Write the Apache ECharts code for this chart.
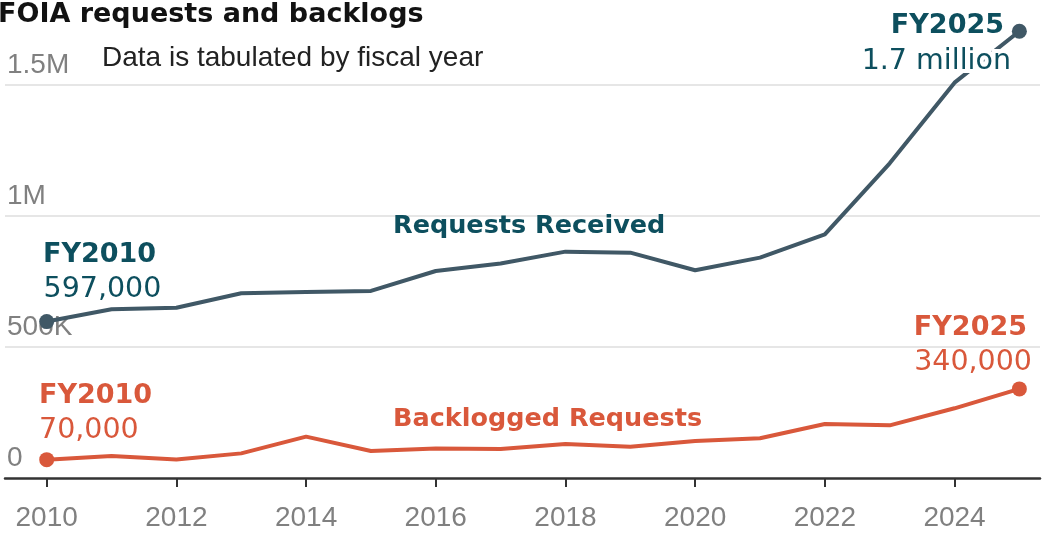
<!DOCTYPE html>
<html>
<head>
<meta charset="utf-8">
<script src="https://cdn.jsdelivr.net/npm/echarts@6/dist/echarts.min.js"></script>
<style>
html,body{margin:0;padding:0;background:#fff;}
#chart{width:1050px;height:549px;}
</style>
</head>
<body>
<div id="chart"></div>
<script>
const years = [2010,2011,2012,2013,2014,2015,2016,2017,2018,2019,2020,2021,2022,2023,2024,2025];
const requestsReceived = [597000,644000,650000,705000,710000,714000,790000,819000,864000,860000,793000,841000,930000,1201000,1509000,1705000];
const backloggedRequests = [70000,84000,71000,94000,158000,103000,113000,111000,130000,119000,141000,152000,206000,201000,266000,340000];
const xTickValues = [2010,2012,2014,2016,2018,2020,2022,2024];
const yTickValues = [0,500000,1000000,1500000];
const yTickLabels = ['0','500K','1M','1.5M'];

const titleText = 'FOIA requests and backlogs';
const subtitleText = 'Data is tabulated by fiscal year';
const reqName = 'Requests Received';
const backName = 'Backlogged Requests';
const reqStartLabel = ['FY2010', '597,000'];
const reqEndLabel = ['FY2025', '1.7 million'];
const backStartLabel = ['FY2010', '70,000'];
const backEndLabel = ['FY2025', '340,000'];

const TEAL_TEXT = '#0d4f5e';
const TEAL_LINE = '#405866';
const ORANGE = '#d9583b';
const BOLD27 = '700 27px "DejaVu Sans"';
const BOLD25 = '700 25.5px "DejaVu Sans"';
const NUM28 = '400 28.5px "DejaVu Sans"';

function txt(text, x, y, font, fill, align, extra) {
  const style = Object.assign({
    text: text, x: x, y: y, font: font, fill: fill,
    align: align, textAlign: align,
    verticalAlign: 'middle', textVerticalAlign: 'middle'
  }, extra || {});
  return { type: 'text', z: 100, silent: true, style: style };
}

const last = years.length - 1;
const chart = echarts.init(document.getElementById('chart'));
chart.setOption({
  animation: false,
  backgroundColor: '#fff',
  grid: { left: 5, right: 10, top: 19.5, bottom: 71, containLabel: false, outerBoundsMode: 'none' },
  xAxis: {
    type: 'value',
    min: 2009.357,
    max: 2025.318,
    axisLine: { show: true, lineStyle: { color: '#333', width: 2.5 } },
    axisTick: { show: true, customValues: xTickValues, length: 9, lineStyle: { color: '#333', width: 2 } },
    axisLabel: {
      customValues: xTickValues,
      formatter: v => String(v),
      color: '#808080',
      fontFamily: 'Liberation Sans',
      fontSize: 28,
      margin: 26
    },
    splitLine: { show: false }
  },
  yAxis: {
    type: 'value',
    min: 0,
    max: 1750000,
    interval: 500000,
    axisLine: { show: false },
    axisTick: { show: false },
    axisLabel: {
      inside: true,
      customValues: yTickValues,
      formatter: v => yTickLabels[yTickValues.indexOf(v)],
      color: '#808080',
      fontFamily: 'Liberation Sans',
      fontSize: 28,
      margin: 2,
      verticalAlign: 'bottom',
      lineHeight: 40
    },
    splitLine: { show: true, showMinLine: false, showMaxLine: false, lineStyle: { color: '#e6e6e6', width: 2 } }
  },
  series: [
    {
      name: reqName, type: 'line', z: 3,
      data: years.map((y, i) => [y, requestsReceived[i]]),
      showSymbol: false, lineStyle: { color: TEAL_LINE, width: 4 }, itemStyle: { color: TEAL_LINE }
    },
    {
      name: backName, type: 'line', z: 3,
      data: years.map((y, i) => [y, backloggedRequests[i]]),
      showSymbol: false, lineStyle: { color: ORANGE, width: 4 }, itemStyle: { color: ORANGE }
    },
    {
      type: 'scatter', z: 4, symbolSize: 15,
      data: [[years[0], requestsReceived[0]], [years[last], requestsReceived[last]]],
      itemStyle: { color: TEAL_LINE, opacity: 1 }
    },
    {
      type: 'scatter', z: 4, symbolSize: 15,
      data: [[years[0], backloggedRequests[0]], [years[last], backloggedRequests[last]]],
      itemStyle: { color: ORANGE, opacity: 1 }
    }
  ],
  graphic: [
    txt(titleText, -2, 15, BOLD27, '#121212', 'left'),
    txt(subtitleText, 102, 58, '400 28px "Liberation Sans"', '#222', 'left'),
    txt(reqStartLabel[0], 43, 255, BOLD27, TEAL_TEXT, 'left'),
    txt(reqStartLabel[1], 43.5, 289.5, NUM28, TEAL_TEXT, 'left'),
    txt(reqName, 393, 226.5, BOLD25, TEAL_TEXT, 'left'),
    txt(reqEndLabel[0], 1004, 26, BOLD27, TEAL_TEXT, 'right'),
    txt(reqEndLabel[1], 1011, 61.5, NUM28, TEAL_TEXT, 'right', { stroke: '#fff', lineWidth: 8, strokeFirst: true }),
    txt(backStartLabel[0], 39, 396, BOLD27, ORANGE, 'left'),
    txt(backStartLabel[1], 39, 431, NUM28, ORANGE, 'left'),
    txt(backName, 393, 419.7, BOLD25, ORANGE, 'left'),
    txt(backEndLabel[0], 1027, 328, BOLD27, ORANGE, 'right'),
    txt(backEndLabel[1], 1032, 363, NUM28, ORANGE, 'right')
  ]
});
</script>
</body>
</html>
